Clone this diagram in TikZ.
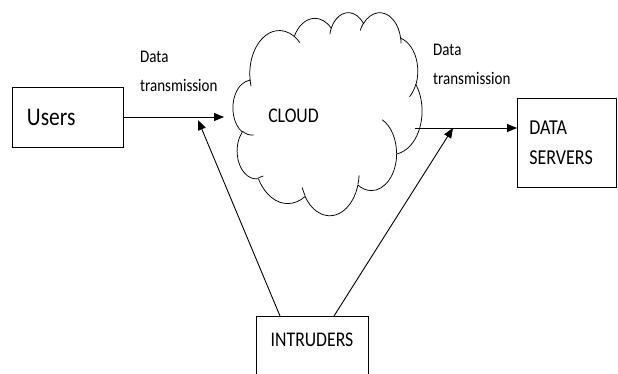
\documentclass[tikz,border=0pt]{standalone}
\usepackage{graphicx}
\usepackage{fontspec}
\setmainfont{Carlito}
\usetikzlibrary{arrows.meta}

% text set slightly taller than wide
\newcommand\tall[1]{\scalebox{1}[1.18]{#1}}

% Elliptical arc whose start and sweep are given as visual angles
% (as in office shape geometry), turned into TikZ parametric angles.
% #1 macro name, #2 x radius, #3 y radius, #4 start angle, #5 sweep
\newcommand\mkcloudarc[5]{%
  \pgfmathsetmacro\cloudtA{atan2((#2)*sin(#4),(#3)*cos(#4))}%
  \pgfmathsetmacro\cloudtB{atan2((#2)*sin((#4)+(#5)),(#3)*cos((#4)+(#5)))}%
  \pgfmathsetmacro\clouddT{\cloudtB-\cloudtA}%
  \pgfmathsetmacro\clouddT{ifthenelse((#5)>0,ifthenelse(\clouddT<0,\clouddT+360,\clouddT),ifthenelse(\clouddT>0,\clouddT-360,\clouddT))}%
  \expandafter\xdef\csname #1\endcsname{arc[start angle=\cloudtA, delta angle=\clouddT, x radius=#2, y radius=#3]}%
}
% outline
\mkcloudarc{cA}{67.53}{91.90}{-190.4875}{123.7805}
\mkcloudarc{cB}{53.33}{72.67}{-144.1024}{89.9452}
\mkcloudarc{cC}{43.65}{59.45}{-145.8079}{99.7230}
\mkcloudarc{cD}{48.57}{65.95}{-130.9861}{117.2417}
\mkcloudarc{cE}{53.33}{72.73}{-78.7089}{109.0269}
\mkcloudarc{cF}{67.75}{92.20}{-46.2673}{130.2690}
\mkcloudarc{cG}{57.85}{78.67}{0.6250}{114.0333}
\mkcloudarc{cH}{67.52}{92.15}{22.4516}{115.1726}
\mkcloudarc{cI}{77.20}{105.43}{66.2426}{75.7110}
\mkcloudarc{cJ}{43.60}{59.18}{-274.9421}{146.7356}
\mkcloudarc{cK}{43.45}{59.45}{-246.8285}{152.5189}
% inner folds
\mkcloudarc{iA}{43.45}{59.45}{86.7420}{26.4295}
\mkcloudarc{iB}{43.60}{59.18}{73.6105}{11.4475}
\mkcloudarc{iC}{67.52}{92.15}{137.6242}{14.0811}
\mkcloudarc{iD}{67.52}{92.15}{6.4533}{15.9984}
\mkcloudarc{iE}{57.85}{78.67}{-70.2924}{70.9174}
\mkcloudarc{iF}{53.33}{72.73}{30.3180}{27.7515}
\mkcloudarc{iG}{48.57}{65.95}{-13.7443}{14.8589}
\mkcloudarc{iH}{48.57}{65.95}{-149.1815}{18.1954}
\mkcloudarc{iI}{43.65}{59.45}{-163.4943}{17.6864}
\mkcloudarc{iJ}{67.53}{91.90}{-66.7070}{12.3194}
\mkcloudarc{iK}{67.53}{91.90}{157.6544}{11.8582}

\begin{document}
\begin{tikzpicture}[x=1pt,y=-1pt,
  box/.style={draw, line width=0.8pt, inner sep=0pt},
  flow/.style={-{Triangle[length=10pt,width=8pt]}, line width=0.9pt},
  lbl/.style={font=\fontsize{15}{28.5}\selectfont, align=left, anchor=north west, inner sep=0pt}
]
\useasboundingbox (0,0) rectangle (618,374);
\clip (0,0) rectangle (618,374);

% boxes
\node[box, minimum width=111pt, minimum height=60pt, text width=81pt, align=left,
      font=\fontsize{21.5}{26}\selectfont] (users) at (67.5,117) {\tall{Users}};
\node[box, anchor=north west, minimum width=99pt, minimum height=89pt, text width=75pt,
      align=left, font=\fontsize{18}{30}\selectfont, inner xsep=12pt, inner ysep=0pt,
      text height=13pt] (servers) at (517,98) {\tall{DATA}\\\tall{SERVERS}};
\node[box, anchor=north, minimum width=112pt, font=\fontsize{17.7}{21}\selectfont,
      inner ysep=0pt, text height=30pt, text depth=35pt] (intr) at (312,316) {\tall{INTRUDERS}};

% the cloud, drawn in a 432 x 432 frame stretched over its bounding box
\begin{scope}[shift={(233,12)}, x={(0.4375pt,0pt)}, y={(0pt,-0.46991pt)},
              line width=0.75pt, line join=round]
  \draw (39.00,143.70) \cA \cB \cC \cD \cE \cF \cG \cH \cI \cJ \cK -- cycle;
  \draw (46.93,261.77) \iA;
  \draw (69.28,348.99) \iB;
  \draw (164.78,390.90) \iC;
  \draw (288.27,347.51) \iD;
  \draw (341.29,229.54) \iE;
  \draw (417.98,153.54) \iF;
  \draw (383.24,54.26) \iG;
  \draw (290.78,39.52) \iH;
  \draw (221.41,47.20) \iI;
  \draw (140.00,51.92) \iJ;
  \draw (41.27,157.89) \iK;
  \coordinate (cloud) at (216,216);
\end{scope}
\node[font=\fontsize{17.7}{21}\selectfont, inner sep=0pt] (cloudtxt) at ([xshift=-34pt,yshift=-2pt]cloud) {\tall{CLOUD}};

% connector end points
\coordinate (inTip) at (224,117);
\coordinate (outStart) at (415,128);
\coordinate (hitL) at (198,120);
\coordinate (hitR) at (453,128);

% flows
\draw[flow] (users.east |- inTip) -- (inTip);
\draw[flow] (outStart) -- (outStart -| servers.west);
\draw[flow] ([xshift=-32pt]intr.north) -- (hitL);
\draw[flow] ([xshift=22pt]intr.north) -- (hitR);

% labels
\node[lbl] (lblL) at (140,51) {\tall{Data}\\\tall{transmission}};
\node[lbl] (lblR) at (433,44) {\tall{Data}\\\tall{transmission}};
\end{tikzpicture}
\end{document}
